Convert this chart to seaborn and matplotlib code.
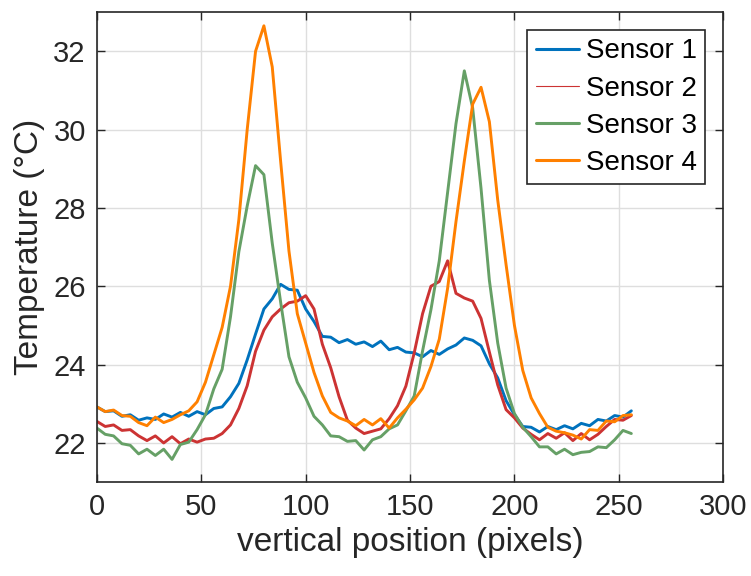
import matplotlib
matplotlib.use("Agg")
import matplotlib.pyplot as plt
import numpy as np
import pandas as pd
import seaborn as sns

# vertical position (pixels), sampled every 4
position = list(range(0, 257, 4))

sensor_1 = [22.92, 22.80, 22.82, 22.68, 22.72, 22.58, 22.64, 22.60, 22.74, 22.66,
            22.78, 22.68, 22.80, 22.72, 22.88, 22.92, 23.18, 23.52, 24.12, 24.78,
            25.42, 25.68, 26.05, 25.92, 25.90, 25.42, 25.10, 24.72, 24.70, 24.56,
            24.64, 24.52, 24.58, 24.46, 24.60, 24.38, 24.44, 24.32, 24.30, 24.20,
            24.36, 24.26, 24.40, 24.50, 24.68, 24.62, 24.48, 24.02, 23.66, 23.08,
            22.72, 22.42, 22.40, 22.28, 22.42, 22.34, 22.44, 22.36, 22.50, 22.44,
            22.60, 22.56, 22.70, 22.66, 22.82]

sensor_2 = [22.55, 22.42, 22.46, 22.32, 22.34, 22.18, 22.06, 22.18, 22.00, 22.16,
            21.98, 22.10, 22.02, 22.10, 22.12, 22.24, 22.46, 22.88, 23.46, 24.34,
            24.88, 25.22, 25.42, 25.58, 25.62, 25.76, 25.42, 24.52, 23.92, 23.18,
            22.58, 22.38, 22.24, 22.30, 22.36, 22.62, 22.95, 23.45, 24.30, 25.30,
            26.00, 26.12, 26.65, 25.82, 25.70, 25.62, 25.18, 24.32, 23.48, 22.85,
            22.64, 22.38, 22.22, 22.08, 22.24, 22.12, 22.26, 22.06, 22.24, 22.08,
            22.22, 22.42, 22.60, 22.58, 22.70]

sensor_3 = [22.38, 22.22, 22.18, 21.98, 21.94, 21.72, 21.84, 21.68, 21.84, 21.58,
            21.96, 22.02, 22.34, 22.72, 23.38, 23.88, 25.22, 26.88, 28.05, 29.08,
            28.85, 27.10, 25.60, 24.20, 23.55, 23.15, 22.68, 22.46, 22.18, 22.16,
            22.04, 22.06, 21.82, 22.08, 22.16, 22.36, 22.46, 22.82, 23.20, 24.35,
            25.40, 26.65, 28.40, 30.15, 31.50, 30.55, 28.50, 26.15, 24.55, 23.40,
            22.75, 22.40, 22.16, 21.90, 21.90, 21.72, 21.84, 21.70, 21.76, 21.78,
            21.90, 21.88, 22.08, 22.32, 22.24]

sensor_4 = [22.92, 22.80, 22.84, 22.70, 22.68, 22.52, 22.44, 22.66, 22.52, 22.60,
            22.72, 22.82, 23.05, 23.55, 24.25, 24.95, 26.00, 27.70, 30.00, 32.00,
            32.65, 31.60, 29.20, 26.90, 25.30, 24.55, 23.80, 23.20, 22.78, 22.64,
            22.56, 22.44, 22.60, 22.46, 22.62, 22.38, 22.64, 22.86, 23.10, 23.40,
            23.95, 24.65, 25.95, 27.65, 29.20, 30.65, 31.08, 30.20, 28.20, 26.55,
            25.00, 23.85, 23.15, 22.75, 22.40, 22.30, 22.26, 22.20, 22.10, 22.34,
            22.32, 22.56, 22.54, 22.70, 22.72]

sensor_names = ["Sensor 1", "Sensor 2", "Sensor 3", "Sensor 4"]
colors = {"Sensor 1": "#0072BD", "Sensor 2": "#CC3333",
          "Sensor 3": "#66A066", "Sensor 4": "#FF8000"}

frames = []
for name, vals in zip(sensor_names, [sensor_1, sensor_2, sensor_3, sensor_4]):
    frames.append(pd.DataFrame({"position": position, "temperature": vals, "sensor": name}))
df = pd.concat(frames, ignore_index=True)

sns.set_style("whitegrid")
plt.rcParams["font.family"] = ["Liberation Sans", "DejaVu Sans"]

fig = plt.figure(figsize=(7.51, 5.76), dpi=100)
ax = fig.add_axes([0.129, 0.163, 0.834, 0.816])

sns.lineplot(data=df, x="position", y="temperature", hue="sensor", hue_order=sensor_names,
             palette=colors, estimator=None, sort=False, linewidth=2.1, ax=ax)

ax.set_xlim(0, 300)
ax.set_ylim(21, 33)
ax.set_xticks(np.arange(0, 301, 50))
ax.set_yticks(np.arange(22, 33, 2))
ax.grid(True, color="#dedede", linewidth=1.0)
ax.set_facecolor("white")
for sp in ax.spines.values():
    sp.set_visible(True)
    sp.set_color("#262626")
    sp.set_linewidth(1.2)
ax.tick_params(direction="in", length=6, width=1.0, colors="#262626",
               labelsize=21, top=True, right=True, left=True, bottom=True, pad=8)
ax.set_xlabel("vertical position (pixels)", fontsize=24, color="#262626", labelpad=4)
ax.set_ylabel("Temperature (°C)", fontsize=24, color="#262626", labelpad=6)

leg = ax.legend(loc="upper right", fontsize=20, frameon=True, fancybox=False,
                edgecolor="#262626", framealpha=1, borderaxespad=0.65, borderpad=0.3,
                handlelength=1.55, handletextpad=0.25, labelspacing=0.4)
leg.get_frame().set_linewidth(1.2)
for txt in leg.get_texts():
    txt.set_color("black")
for i, line in enumerate(leg.get_lines()):
    line.set_linewidth(0.8 if i == 1 else 2.2)

fig.savefig("out.png", dpi=100)
